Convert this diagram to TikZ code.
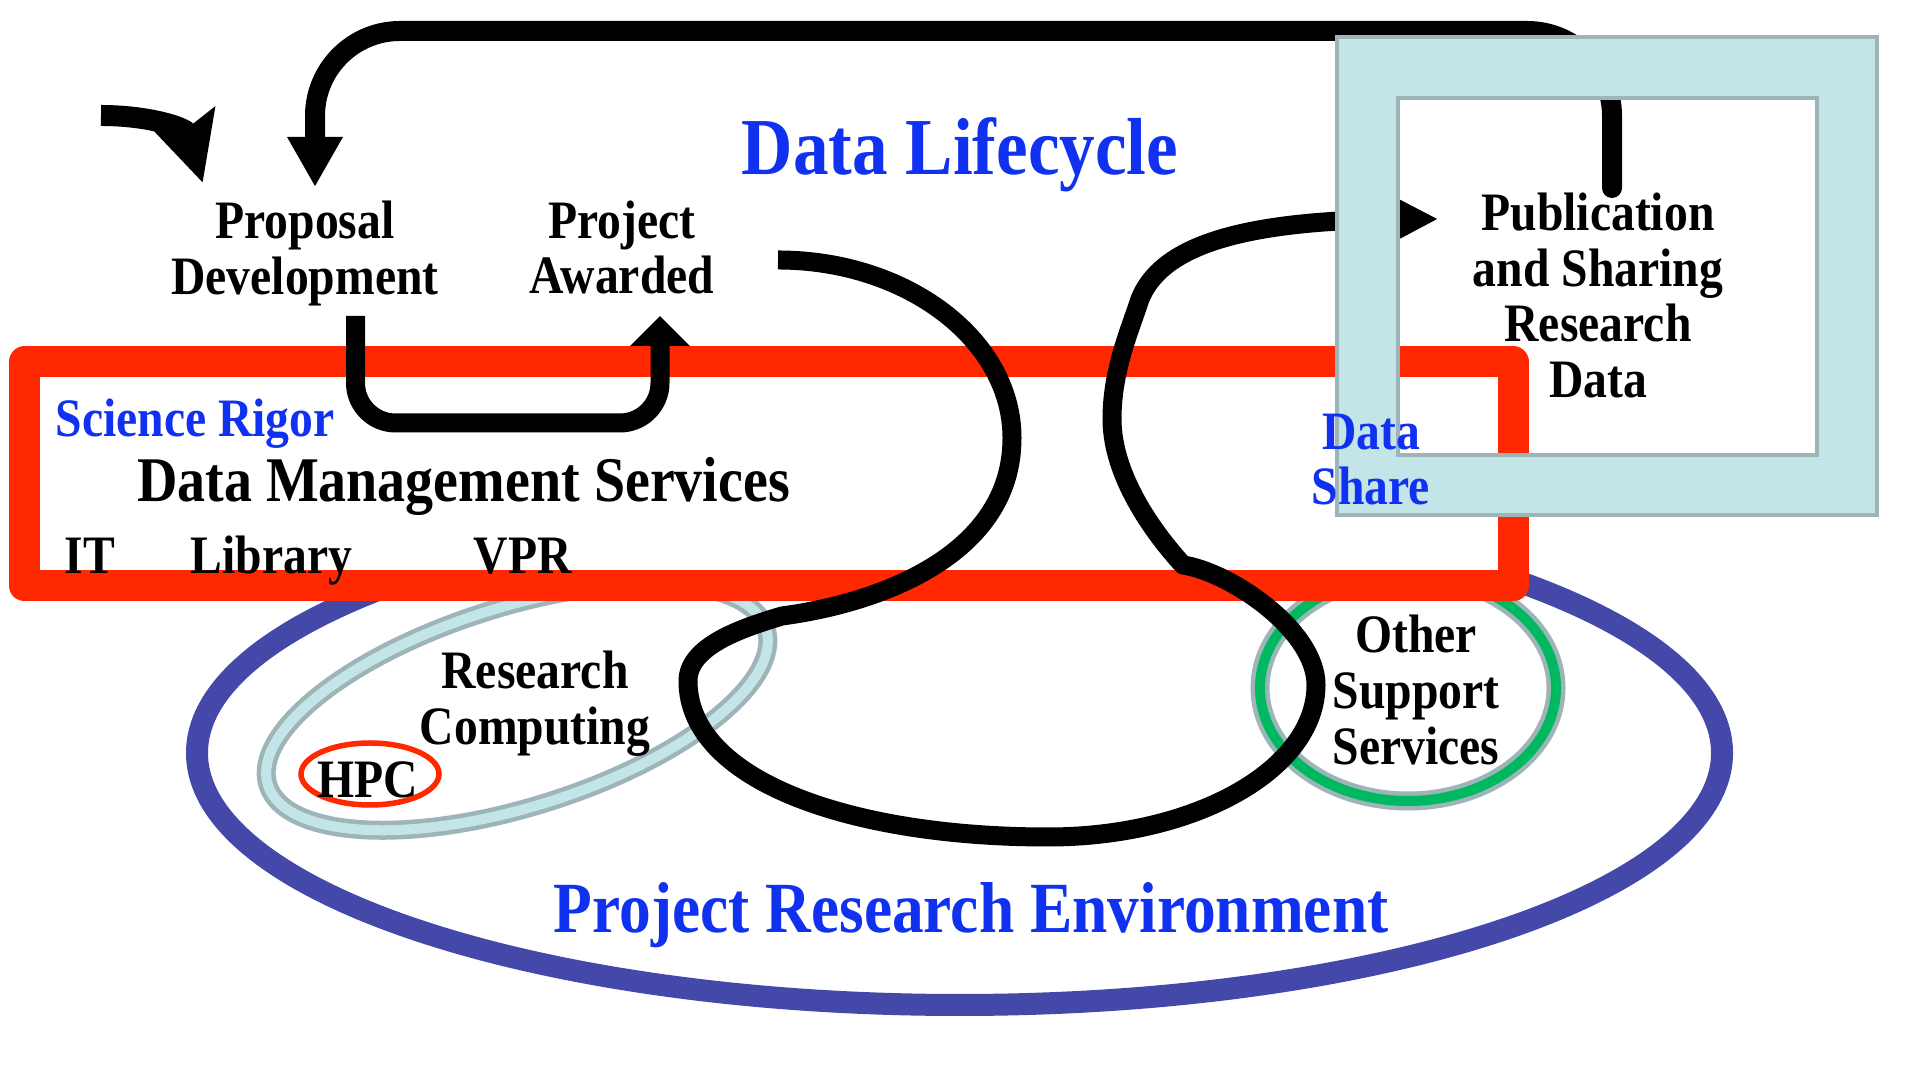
\documentclass[tikz,border=0pt]{standalone}
\usepackage{fontspec}
\setmainfont{Liberation Serif}[FakeStretch=0.88]
\usetikzlibrary{arrows.meta}

\definecolor{dmsred}{RGB}{255,40,0}
\definecolor{lcblue}{RGB}{16,50,240}
\definecolor{envblue}{RGB}{68,72,168}
\definecolor{rcteal}{RGB}{196,229,231}
\definecolor{rcgray}{RGB}{157,181,184}
\definecolor{ossgreen}{RGB}{0,184,96}

\begin{document}
\begin{tikzpicture}[
        inner sep=0pt,
        font=\fontsize{15.4}{15.9}\selectfont\bfseries,
        lbl/.style={align=center},
        bluelbl/.style={lbl, text=lcblue},
        flow/.style={line width=0.19cm, line join=round},
        ]
    \useasboundingbox (0,0) rectangle (19.2,10.8);

    % Umgebung
    \draw[envblue, line width=0.22cm] (9.595,3.27) ellipse [x radius=7.625, y radius=2.52];

    % Research Computing, HPC
    \begin{scope}[rotate around={17.4:(5.17,3.73)}]
        \draw[rcgray, line width=0.19cm] (5.17,3.73) ellipse [x radius=2.61, y radius=1.00];
        \draw[rcteal, line width=0.10cm] (5.17,3.73) ellipse [x radius=2.61, y radius=1.00];
    \end{scope}
    \draw[dmsred, line width=0.055cm] (3.70,3.06) ellipse [x radius=0.69, y radius=0.31];

    % Other Support Services
    \draw[rcgray, line width=0.19cm] (14.08,3.92) ellipse [x radius=1.48, y radius=1.13];
    \draw[ossgreen, line width=0.10cm] (14.08,3.92) ellipse [x radius=1.48, y radius=1.13];

    % Data Management Services
    \draw[dmsred, fill=white, line width=0.31cm, line join=round] (0.245,4.94) rectangle (15.13,7.18);
    \node[anchor=base west, text=lcblue] (rigor) at (0.55,6.43) {Science Rigor};
    \node[anchor=base, font=\fontsize{18.1}{19}\selectfont\bfseries] (dms) at (4.635,5.78) {Data Management Services};
    \node[anchor=base west] (it) at (0.64,5.06) {IT};
    \node[anchor=base west] (library) at (1.90,5.06) {Library};
    \node[anchor=base west] (vpr) at (4.73,5.06) {VPR};

    % Pfeile
    \coordinate (pubtop) at (16.12,8.92);
    \coordinate (proptip) at (3.15,8.93);
    \coordinate (propbot) at (3.555,7.64);
    \coordinate (awtip) at (6.60,7.64);
    \coordinate (awstart) at (7.78,8.20);
    \coordinate (pubtip) at (14.38,8.61);
    \coordinate (entry) at (1.01,9.645);
    \coordinate (entrytip) at (2.027,8.973);

    \draw[flow, line width=0.2cm, line cap=round, rounded corners=0.85cm,
          -{Triangle[length=0.5cm, width=0.52cm]}]
        (pubtop) |- (3.15,10.49) -- (proptip);
    \draw[flow, rounded corners=0.4cm, -{Triangle[length=0.3cm, width=0.58cm]}]
        (propbot) |- (6.60,6.57) -- (awtip);
    \draw[line width=0.21cm, -{Stealth[length=0.68cm, width=0.66cm, inset=0.12cm]}]
        (entry) .. controls (1.50,9.645) and (1.86,9.52) .. (entrytip);
    \draw[flow, -{Triangle[length=0.38cm, width=0.36cm]}]
        (awstart) .. controls (9.07,8.20) and (10.12,7.40) .. (10.12,6.42)
                  .. controls (10.12,5.25) and (8.80,4.77) .. (7.82,4.64)
                  .. controls (7.42,4.52) and (6.88,4.34) .. (6.88,3.99)
                  .. controls (6.88,3.00) and (8.49,2.43) .. (10.48,2.43)
                  .. controls (11.96,2.43) and (13.16,3.11) .. (13.16,3.95)
                  .. controls (13.16,4.50) and (12.30,5.08) .. (11.83,5.15)
                  .. controls (11.60,5.40) and (11.12,6.00) .. (11.12,6.61)
                  .. controls (11.12,7.10) and (11.30,7.50) .. (11.40,7.81)
                  .. controls (11.60,8.30) and (12.30,8.60) .. (pubtip);

    % Data Share Rahmen
    \filldraw[fill=rcteal, draw=rcgray, line width=0.04cm, even odd rule]
        (13.37,5.65) rectangle (18.77,10.43)
        (13.98,6.25) rectangle (18.17,9.82);

    % Beschriftungen
    \node[lbl] (propdev) at (3.05,8.265) {Proposal\\Development};
    \node[lbl] (awarded) at (6.22,8.325) {Project\\Awarded};
    \node[anchor=base, text=lcblue, font=\fontsize{23}{24}\selectfont\bfseries] (lifecycle) at (9.60,9.05) {Data Lifecycle};
    \node[lbl] (pubshare) at (15.98,7.845) {Publication\\and Sharing\\Research\\Data};
    \node[bluelbl] (datashare) at (13.71,6.205) {Data\\Share};
    \node[lbl] (rc) at (5.35,3.76) {Research\\Computing};
    \node[anchor=base] (hpc) at (3.68,2.82) {HPC};
    \node[lbl] (oss) at (14.16,3.90) {Other\\Support\\Services};
    \node[anchor=base, text=lcblue, font=\fontsize{20.5}{21}\selectfont\bfseries] (pre) at (9.71,1.47) {Project Research Environment};
\end{tikzpicture}
\end{document}
